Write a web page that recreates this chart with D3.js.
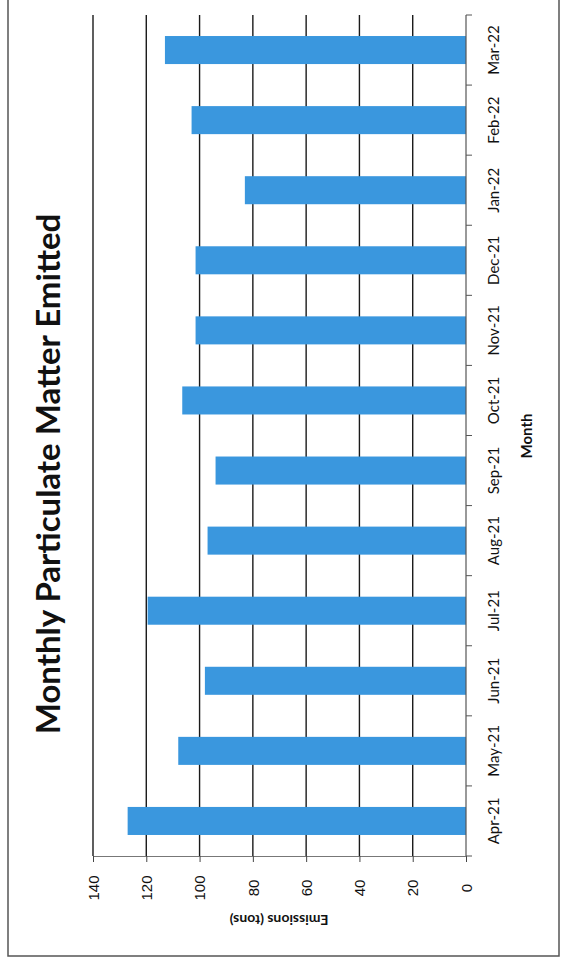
<!DOCTYPE html>
<html>
<head>
<meta charset="UTF-8">
<title>Monthly Particulate Matter Emitted</title>
<script src="https://d3js.org/d3.v7.min.js"></script>
<style>
  body { margin: 0; background: #fff; }
  svg { display: block; }
  text { font-family: Lato, "Open Sans", sans-serif; fill: #111; }
</style>
</head>
<body>
<svg id="chart" width="562" height="963"></svg>
<script>
  const months = ['Apr-21', 'May-21', 'Jun-21', 'Jul-21', 'Aug-21', 'Sep-21',
                  'Oct-21', 'Nov-21', 'Dec-21', 'Jan-22', 'Feb-22', 'Mar-22'];
  const emissions = [127, 108, 98, 119.5, 97, 94, 106.5, 101.5, 101.5, 83, 103, 113];
  const valueTicks = [0, 20, 40, 60, 80, 100, 120, 140];

  const svg = d3.select('#chart');

  // page is a column chart turned 90 deg to the left
  const x = d3.scaleLinear().domain([0, 140]).range([466, 93]);
  const y = d3.scaleBand().domain(months).range([856, 15])
    .paddingInner(0.6).paddingOuter(0.3);

  // frame
  svg.append('rect')
    .attr('x', 8).attr('y', -4).attr('width', 551).attr('height', 960)
    .attr('fill', 'none').attr('stroke', '#555').attr('stroke-width', 1.5);

  // gridlines
  svg.append('g').selectAll('line')
    .data(valueTicks.filter(d => d > 0))
    .join('line')
    .attr('x1', d => x(d)).attr('x2', d => x(d))
    .attr('y1', 15).attr('y2', 856)
    .attr('stroke', '#1a1a1a').attr('stroke-width', 1.4);

  // bars
  svg.append('g').selectAll('rect')
    .data(months)
    .join('rect')
    .attr('x', (d, i) => x(emissions[i]))
    .attr('y', d => y(d))
    .attr('width', (d, i) => x(0) - x(emissions[i]))
    .attr('height', y.bandwidth())
    .attr('fill', '#3a97de');

  // value axis (bottom of page)
  const xAxis = svg.append('g')
    .attr('transform', 'translate(0,856)')
    .call(d3.axisBottom(x).tickValues(valueTicks).tickSize(6).tickSizeOuter(0));
  xAxis.select('.domain').attr('stroke', '#777').attr('stroke-width', 1.2);
  xAxis.selectAll('.tick line').attr('stroke', '#444');
  xAxis.selectAll('.tick text')
    .attr('y', 0).attr('dy', '0.35em')
    .attr('transform', 'translate(0,32) rotate(-90)')
    .attr('text-anchor', 'middle')
    .style('font-size', '15px')
    .style('font-family', 'Liberation Sans, Arial, sans-serif');

  // category axis (right of page), ticks between bars
  const catAxis = svg.append('g');
  catAxis.append('line')
    .attr('x1', 466).attr('x2', 466)
    .attr('y1', y.range()[1]).attr('y2', y.range()[0])
    .attr('stroke', '#555').attr('stroke-width', 1.2);
  catAxis.selectAll('.cut')
    .data(d3.range(months.length + 1))
    .join('line')
    .attr('class', 'cut')
    .attr('x1', 466).attr('x2', 472)
    .attr('y1', i => y.range()[0] - i * y.step())
    .attr('y2', i => y.range()[0] - i * y.step())
    .attr('stroke', '#555');
  catAxis.selectAll('text')
    .data(months)
    .join('text')
    .attr('transform', d => `translate(494,${y(d) + y.bandwidth() / 2}) rotate(-90)`)
    .attr('text-anchor', 'middle')
    .attr('dy', '0.35em')
    .style('font-size', '15px')
    .text(d => d);

  // axis titles
  svg.append('text')
    .attr('transform', 'translate(527,436) rotate(-90)')
    .attr('text-anchor', 'middle').attr('dy', '0.35em')
    .style('font-size', '15px').style('font-weight', 'bold')
    .text('Month');

  // this one ends up upside down after the page turn
  svg.append('text')
    .attr('transform', 'translate(279,920) rotate(180)')
    .attr('text-anchor', 'middle').attr('dy', '0.35em')
    .style('font-size', '14px').style('font-weight', 'bold')
    .text('Emissions (tons)');

  // chart title
  svg.append('text')
    .attr('transform', 'translate(48,474) rotate(-90)')
    .attr('text-anchor', 'middle').attr('dy', '0.35em')
    .style('font-size', '33px').style('font-weight', 'bold')
    .text('Monthly Particulate Matter Emitted');
</script>
</body>
</html>
